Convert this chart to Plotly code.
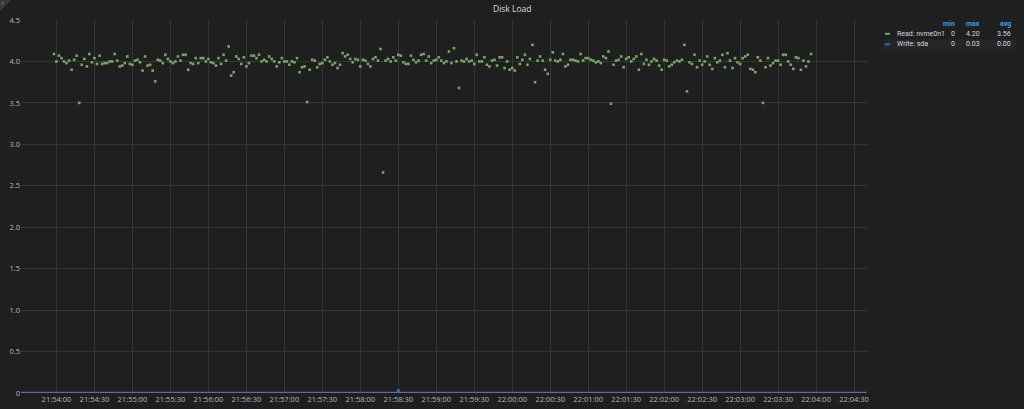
import pandas as pd
import plotly.graph_objects as go

# ---------------- data ----------------
read_start = "2024-01-01 21:53:58"   # first Read sample, 2 s apart
read_values = [
    4.09, 4.00, 4.07, 4.04, 4.00, 3.98, 4.01, 3.90, 4.02, 4.07,
    3.50, 3.96, 4.03, 3.94, 4.09, 3.99, 4.04, 3.97, 4.07, 3.97,
    3.98, 3.98, 4.00, 4.00, 4.09, 4.01, 3.94, 3.95, 3.98, 4.06,
    3.97, 3.96, 4.01, 4.02, 3.99, 3.89, 4.06, 3.95, 3.96, 3.89,
    3.76, 4.02, 4.01, 3.98, 4.08, 4.03, 4.00, 3.98, 4.00, 4.06,
    4.01, 4.08, 4.08, 3.90, 3.98, 3.97, 4.04, 3.98, 4.04, 4.04,
    4.00, 4.03, 3.99, 3.98, 3.95, 4.04, 3.97, 4.08, 4.01, 4.18,
    3.83, 3.87, 4.06, 4.03, 3.97, 4.05, 3.94, 3.98, 4.07, 4.07,
    4.04, 4.08, 4.00, 4.02, 4.00, 4.06, 4.03, 4.00, 3.94, 3.99,
    4.04, 4.00, 4.00, 3.96, 4.00, 3.99, 4.04, 3.87, 3.93, 3.94,
    3.51, 3.90, 4.02, 4.01, 3.93, 3.97, 3.98, 4.02, 4.05, 4.00,
    3.96, 3.98, 3.92, 3.96, 4.10, 4.06, 4.08, 4.03, 3.99, 4.03,
    4.02, 3.94, 4.02, 4.01, 3.97, 3.94, 4.03, 4.05, 4.01, 4.15,
    2.66, 4.01, 4.03, 4.00, 4.05, 4.01, 4.08, 4.07, 3.99, 3.97,
    3.97, 4.07, 4.02, 3.99, 4.01, 4.08, 4.09, 4.01, 4.06, 3.98,
    4.01, 4.02, 4.05, 4.01, 3.98, 4.00, 4.12, 3.98, 4.16, 4.00,
    3.68, 4.01, 4.00, 4.03, 4.00, 4.01, 3.97, 4.08, 4.00, 4.00,
    4.05, 3.96, 3.94, 4.01, 4.02, 3.95, 4.05, 4.05, 3.92, 4.00,
    3.90, 3.92, 3.89, 4.05, 3.97, 4.02, 4.08, 3.96, 4.03, 4.20,
    3.75, 4.01, 4.06, 4.01, 3.90, 3.85, 4.02, 4.11, 4.01, 4.00,
    4.02, 4.09, 3.94, 3.96, 4.02, 4.02, 4.01, 4.00, 4.09, 4.01,
    4.04, 4.04, 4.02, 4.01, 3.99, 4.00, 3.98, 4.06, 4.04, 4.12,
    3.49, 3.96, 4.01, 4.02, 4.06, 3.93, 4.03, 4.05, 4.00, 4.03,
    4.06, 3.90, 4.09, 3.97, 4.02, 3.96, 4.00, 4.03, 4.01, 3.95,
    3.90, 4.02, 4.01, 3.94, 3.96, 3.99, 4.01, 4.00, 4.02, 4.20,
    3.64, 3.99, 3.97, 4.08, 3.93, 4.01, 3.96, 4.00, 4.06, 3.96,
    3.91, 4.04, 3.99, 4.01, 4.08, 3.93, 4.10, 4.01, 3.92, 4.04,
    3.99, 3.97, 4.04, 4.06, 4.08, 3.91, 3.90, 3.87, 4.05, 4.01,
    3.50, 3.93, 4.04, 3.95, 3.98, 4.01, 4.01, 3.96, 4.08, 4.08,
    4.00, 3.96, 3.91, 4.05, 4.04, 3.90, 4.01, 3.94, 4.00, 4.09,
]
read_times = pd.date_range(read_start, periods=len(read_values), freq="2s")

write_times = ["2024-01-01 21:53:32", "2024-01-01 21:58:30", "2024-01-01 22:04:40"]
write_values = [0, 0.03, 0]

x_range = ["2024-01-01 21:53:32", "2024-01-01 22:04:41"]
x_tick_labels = ["21:54:00", "21:54:30", "21:55:00", "21:55:30", "21:56:00",
                 "21:56:30", "21:57:00", "21:57:30", "21:58:00", "21:58:30",
                 "21:59:00", "21:59:30", "22:00:00", "22:00:30", "22:01:00",
                 "22:01:30", "22:02:00", "22:02:30", "22:03:00", "22:03:30",
                 "22:04:00", "22:04:30"]
y_tick_values = [0, 0.5, 1.0, 1.5, 2.0, 2.5, 3.0, 3.5, 4.0, 4.5]
y_tick_labels = ["0", "0.5", "1.0", "1.5", "2.0", "2.5", "3.0", "3.5", "4.0", "4.5"]

title = "Disk Load"
legend_headers = ["min", "max", "avg"]
legend_names = ["Read: nvme0n1", "Write: sda"]
legend_stats = [["0", "4.20", "3.56"], ["0", "0.03", "0.00"]]
legend_colors = ["#7eb26d", "#1f78c1"]

# ---------------- layout helpers ----------------
W, H = 1024, 409
L, R, T, B = 21, 868, 20, 393
BG = "#1f1f20"
TXT = "#d8d9da"
LEG_FONT = "Roboto, Open Sans, sans-serif"


def px(x):
    return (x - L) / (R - L)


def py(y):
    return (B - y) / (B - T)


fig = go.Figure()

# Write series: baseline through the zero samples, marker on the non-zero one
w_zero = [(t, v) for t, v in zip(write_times, write_values) if v == 0]
w_nz = [(t, v) for t, v in zip(write_times, write_values) if v != 0]
fig.add_trace(go.Scatter(
    x=[t for t, _ in w_zero], y=[v for _, v in w_zero], mode="lines",
    line=dict(color="#7160ad", width=2.6),
    hoverinfo="skip", showlegend=False, cliponaxis=False,
))
fig.add_trace(go.Scatter(
    x=[t for t, _ in w_nz], y=[v for _, v in w_nz], mode="markers",
    marker=dict(color="#1f78c1", size=3, symbol="square", line=dict(width=0)),
    showlegend=False, cliponaxis=False,
))
fig.add_trace(go.Scatter(
    x=read_times, y=read_values, mode="markers",
    marker=dict(color="#75a864", size=2.6, symbol="square", line=dict(width=0)),
    showlegend=False,
))

tickvals = [pd.Timestamp("2024-01-01 " + t) for t in x_tick_labels]

fig.update_layout(
    width=W, height=H,
    margin=dict(l=L, r=W - R, t=T, b=H - B, pad=0, autoexpand=False),
    paper_bgcolor=BG, plot_bgcolor=BG,
    font=dict(family="Open Sans, DejaVu Sans, sans-serif", color=TXT),
    showlegend=False,
    xaxis=dict(
        range=x_range, tickvals=tickvals, ticktext=x_tick_labels,
        showgrid=True, gridcolor="#353535", gridwidth=1, automargin=False,
        zeroline=False, showline=False, ticks="",
        tickfont=dict(size=7.5, color="#b8b8b8"),
    ),
    yaxis=dict(
        range=[0, 4.5], tickvals=y_tick_values, ticktext=y_tick_labels,
        showgrid=True, gridcolor="#353535", gridwidth=1, automargin=False,
        zeroline=False, showline=False, ticks="",
        tickfont=dict(size=7.5, color="#b8b8b8"),
    ),
)

ann = []
shapes = []
# title
ann.append(dict(text=title, x=px(512), y=py(9), xref="paper", yref="paper",
                showarrow=False, xanchor="center", yanchor="middle",
                font=dict(size=8.5, color=TXT)))
# info corner
shapes.append(dict(type="path", xref="paper", yref="paper",
                   path=f"M {px(0)} {py(0)} L {px(11)} {py(0)} L {px(0)} {py(11)} Z",
                   fillcolor="#3a3a3c", line=dict(width=0)))
ann.append(dict(text="i", x=px(3), y=py(3), xref="paper", yref="paper",
                showarrow=False, xanchor="center", yanchor="middle",
                font=dict(size=6, color="#aaaaaa")))

# legend table
header_right = [957, 982, 1013]
for h, xr in zip(legend_headers, header_right):
    ann.append(dict(text="<b>%s</b>" % h, x=px(xr), y=py(23.5), xref="paper", yref="paper",
                    showarrow=False, xanchor="right", yanchor="middle",
                    font=dict(size=7, color="#33a2e5", family=LEG_FONT)))
row_y = [33.8, 44.3]
shapes.append(dict(type="rect", xref="paper", yref="paper",
                   x0=px(883), x1=px(1016), y0=py(39.5), y1=py(49.3),
                   fillcolor="#262628", line=dict(width=0), layer="below"))
for name, stats, col, yy in zip(legend_names, legend_stats, legend_colors, row_y):
    shapes.append(dict(type="rect", xref="paper", yref="paper",
                       x0=px(885), x1=px(890), y0=py(yy - 0.9), y1=py(yy + 0.9),
                       fillcolor=col, line=dict(width=0)))
    ann.append(dict(text=name, x=px(895), y=py(yy), xref="paper", yref="paper",
                    showarrow=False, xanchor="left", yanchor="middle",
                    font=dict(size=7, color=TXT, family=LEG_FONT)))
    for s, xr in zip(stats, header_right):
        ann.append(dict(text=s, x=px(xr), y=py(yy), xref="paper", yref="paper",
                        showarrow=False, xanchor="right", yanchor="middle",
                        font=dict(size=7, color=TXT, family=LEG_FONT)))

fig.update_layout(annotations=ann, shapes=shapes)

fig.write_html("out.html", config={"displayModeBar": False},
               post_script="document.body.style.margin='0';document.body.style.background='%s';" % BG)
